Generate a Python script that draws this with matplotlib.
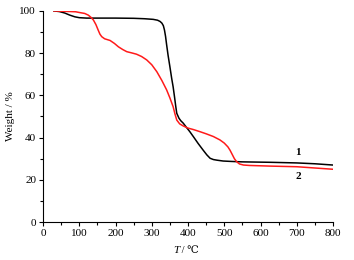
import matplotlib.pyplot as plt
from matplotlib.ticker import MultipleLocator

# TG-Kurven
temp_1 = [30, 45, 60, 74, 88, 100, 120, 150, 200, 250, 280, 304, 316, 323, 328, 332,
          335, 338, 341, 345, 350, 355, 359, 363, 366, 369, 375, 380, 387, 395, 405,
          415, 428, 442, 452, 461, 470, 480, 497, 520, 550, 626, 700, 750, 800]
weight_1 = [100, 99.7, 99.0, 98.0, 97.2, 96.8, 96.6, 96.6, 96.6, 96.5, 96.3, 96.0,
            95.6, 95.0, 94.2, 93.0, 91.0, 88.0, 84.0, 79.0, 73.6, 68.0, 64.0, 59.0,
            55.0, 51.5, 49.2, 48.0, 46.8, 45.0, 42.8, 40.4, 37.2, 34.0, 31.8, 30.2,
            29.6, 29.3, 28.9, 28.7, 28.5, 28.3, 28.0, 27.6, 27.0]

temp_2 = [30, 60, 90, 102, 115, 125, 132, 139, 146, 152, 157, 162, 170, 185, 197,
          208, 220, 231, 245, 258, 272, 286, 300, 314, 328, 341, 350, 359, 364, 369,
          377, 387, 400, 415, 433, 450, 470, 488, 500, 510, 516, 522, 528, 534, 542,
          553, 570, 626, 700, 800]
weight_2 = [100, 99.8, 99.6, 99.2, 98.8, 98.0, 97.0, 95.7, 93.5, 91.0, 89.0, 87.8,
            86.8, 86.0, 84.6, 83.0, 81.7, 80.7, 80.1, 79.5, 78.4, 76.8, 74.5, 71.2,
            67.0, 62.6, 58.8, 54.6, 51.2, 48.3, 46.5, 45.5, 44.5, 43.8, 42.8, 41.8,
            40.5, 38.9, 37.4, 35.6, 34.0, 32.0, 30.0, 28.6, 27.5, 27.0, 26.8, 26.5,
            26.2, 25.0]

fonts = ['Liberation Serif', 'DejaVu Serif', 'DejaVu Sans']
plt.rcParams['font.family'] = fonts
plt.rcParams['font.size'] = 8

fig = plt.figure(figsize=(3.54, 2.60), dpi=100)
ax = fig.add_axes([0.1215, 0.146, 0.8192, 0.812])

ax.plot(temp_1, weight_1, color='black', lw=1.1)
ax.plot(temp_2, weight_2, color='#ff1a1a', lw=1.1)

ax.text(704, 31, '1', fontsize=8, fontweight='bold', ha='center', va='bottom')
ax.text(704, 23.5, '2', fontsize=8, fontweight='bold', ha='center', va='top')

ax.set_xlim(0, 800)
ax.set_ylim(0, 100)
ax.xaxis.set_major_locator(MultipleLocator(100))
ax.xaxis.set_minor_locator(MultipleLocator(50))
ax.yaxis.set_major_locator(MultipleLocator(20))
ax.yaxis.set_minor_locator(MultipleLocator(10))
ax.tick_params(which='major', direction='out', length=3, width=0.8, pad=2)
ax.tick_params(which='minor', direction='out', length=2, width=0.8)

for side in ['top', 'right']:
    ax.spines[side].set_visible(False)

# x-Beschriftung: T kursiv, Rest normal
ax.text(0.47, -0.115, 'T', transform=ax.transAxes, fontstyle='italic',
        ha='right', va='top', fontsize=8)
ax.text(0.47, -0.115, ' / ℃', transform=ax.transAxes, family=fonts,
        ha='left', va='top', fontsize=7.5)
ax.set_ylabel('Weight / %', labelpad=3)

fig.savefig('out.png', dpi=100)
